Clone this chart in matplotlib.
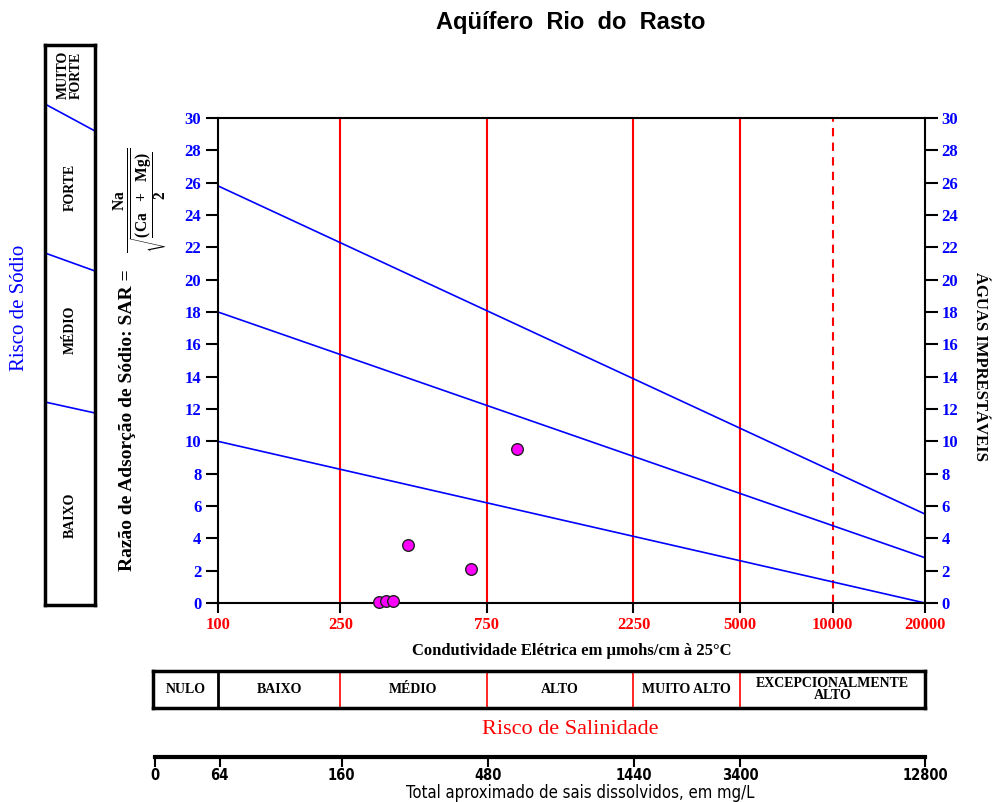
import matplotlib
matplotlib.use("Agg")
import matplotlib.pyplot as plt

# ---------------- data ----------------
ce_values = [333, 353, 370, 415, 665, 942]          # condutividade (µmohs/cm)
sar_values = [0.08, 0.12, 0.12, 3.6, 2.1, 9.5]      # SAR

boundary_ce = [100, 20000]
boundary_upper = [25.8, 5.5]
boundary_middle = [18.0, 2.8]
boundary_lower = [10.0, 0.0]

ce_ticks = [100, 250, 750, 2250, 5000, 10000, 20000]
ce_ticklabels = ["100", "250", "750", "2250", "5000", "10000", "20000"]
red_solid = [250, 750, 2250, 5000]
red_dashed = [10000]

sar_ticks = list(range(0, 31, 2))

sal_edges = [61.5, 100, 250, 750, 2250, 5000, 20000]
sal_labels = ["NULO", "BAIXO", "MÉDIO", "ALTO", "MUITO ALTO", "EXCEPCIONALMENTE\nALTO"]

tds_ce_pos = [61.5, 100, 250, 750, 2250, 5000, 20000]
tds_labels = ["0", "64", "160", "480", "1440", "3400", "12800"]

sodium_labels = ["MUITO\nFORTE", "FORTE", "MÉDIO", "BAIXO"]

# ---------------- style ----------------
plt.rcParams['mathtext.fontset'] = 'custom'
plt.rcParams['mathtext.rm'] = 'Liberation Serif:bold'
plt.rcParams['mathtext.it'] = 'Liberation Serif:bold'
plt.rcParams['mathtext.bf'] = 'Liberation Serif:bold'
SERIF = ['Liberation Serif', 'DejaVu Serif']
SANS = ['Liberation Sans', 'DejaVu Sans']
COND = ['DejaVu Sans']

W, H = 992, 802
fig = plt.figure(figsize=(W / 100, H / 100), dpi=100)

def fx(px):
    return px / W

def fy(py):
    return 1 - py / H

# ---------------- main axes ----------------
ax = fig.add_axes([fx(218), fy(603), fx(925) - fx(218), fy(118) - fy(603)])
ax.set_xscale('log')
ax.set_xlim(100, 20000)
ax.set_ylim(0, 30)

for x in red_solid:
    ax.plot([x, x], [0, 30], color='#ff0000', lw=1.5, zorder=1)
for x in red_dashed:
    ax.plot([x, x], [0, 30], color='#ff0000', lw=1.5, ls=(0, (4, 3)), zorder=1)

for yv in (boundary_upper, boundary_middle, boundary_lower):
    ax.plot(boundary_ce, yv, color='#0000ff', lw=1.2, zorder=2)

ax.scatter(ce_values, sar_values, s=70, c='#ff00ff', edgecolors='#202020',
           linewidths=1.0, zorder=5, clip_on=False)

ax.set_xticks(ce_ticks)
ax.set_xticklabels(ce_ticklabels)
ax.xaxis.set_minor_locator(matplotlib.ticker.NullLocator())
ax.set_yticks(sar_ticks)
ax.tick_params(axis='x', direction='out', length=7, width=1.5, colors='black',
               labelcolor='#ff0000', pad=3)
ax.tick_params(axis='y', direction='out', length=9, width=1.5, colors='black',
               labelcolor='#0000ff', left=True, right=True,
               labelleft=True, labelright=True, pad=3)
for lab in ax.get_xticklabels() + ax.get_yticklabels():
    lab.set_fontfamily(SERIF)
    lab.set_fontweight('bold')
    lab.set_fontsize(12)
for t in ax.yaxis.get_major_ticks():
    t.label2.set_fontfamily(SERIF)
    t.label2.set_fontweight('bold')
    t.label2.set_fontsize(12)
    t.label2.set_color('#0000ff')
for sp in ax.spines.values():
    sp.set_linewidth(1.5)

ax.set_xlabel("Condutividade Elétrica em µmohs/cm à 25°C", fontfamily=SERIF,
              fontweight='bold', fontsize=12, labelpad=7)

# title
fig.text(fx(571), fy(22), "Aqüífero  Rio  do  Rasto", ha='center', va='center',
         fontfamily=SANS, fontweight='bold', fontsize=17)

# right label
fig.text(fx(980), fy(366), "ÁGUAS IMPRESTÁVEIS", rotation=-90, ha='center',
         va='center', fontfamily=SERIF, fontweight='bold', fontsize=12)

# SAR label
fig.text(fx(127), fy(420), "Razão de Adsorção de Sódio: SAR =", rotation=90,
         ha='center', va='center', fontfamily=SERIF, fontweight='bold', fontsize=14)
fig.text(fx(141), fy(200), r"$\frac{Na}{\sqrt{\dfrac{(Ca\ \ +\ \ Mg)}{2}}}$",
         rotation=90, ha='center', va='center', fontsize=16)

# ---------------- sodium risk box ----------------
sx0, sx1, sy0, sy1 = 45, 95, 45, 605
axs = fig.add_axes([fx(sx0), fy(sy1), fx(sx1) - fx(sx0), fy(sy0) - fy(sy1)])
axs.set_xlim(sx0, sx1)
axs.set_ylim(sy1, sy0)
axs.set_xticks([])
axs.set_yticks([])
for sp in axs.spines.values():
    sp.set_linewidth(2.5)
sodium_dividers = [(104, 131), (253, 271), (402, 413)]
for yl, yr in sodium_dividers:
    axs.plot([sx0, sx1], [yl, yr], color='#0000ff', lw=1.2)
sodium_label_y = [75, 187, 330, 515]
for lab, yy in zip(sodium_labels, sodium_label_y):
    axs.text(70, yy, lab, rotation=90, ha='center', va='center',
             fontfamily=SERIF, fontweight='bold', fontsize=10, linespacing=1.0)

fig.text(fx(20), fy(308), "Risco de Sódio", rotation=90, ha='center', va='center',
         fontfamily=SERIF, fontsize=15, color='#0000ff')

# ---------------- salinity box ----------------
axb = fig.add_axes([fx(153), fy(708), fx(925) - fx(153), fy(671) - fy(708)])
axb.set_xscale('log')
axb.set_xlim(sal_edges[0], sal_edges[-1])
axb.set_ylim(0, 1)
axb.set_xticks([])
axb.set_yticks([])
axb.xaxis.set_minor_locator(matplotlib.ticker.NullLocator())
for sp in axb.spines.values():
    sp.set_linewidth(2.5)
for i, e in enumerate(sal_edges[1:-1]):
    axb.axvline(e, color='black' if i == 0 else '#ff0000', lw=2 if i == 0 else 1.2)
for i, lab in enumerate(sal_labels):
    a, b = sal_edges[i], sal_edges[i + 1]
    xc = (a * b) ** 0.5
    axb.text(xc, 0.5, lab, ha='center', va='center', fontfamily=SERIF,
             fontweight='bold', fontsize=10, linespacing=0.9)

fig.text(fx(570), fy(730), "Risco de Salinidade", ha='center', va='center',
         fontfamily=SERIF, fontsize=16, color='#ff0000')

# ---------------- TDS axis ----------------
axt = fig.add_axes([fx(155), fy(757), fx(925) - fx(155), 0.0001])
axt.set_xscale('log')
axt.set_xlim(tds_ce_pos[0], tds_ce_pos[-1])
axt.set_yticks([])
axt.set_xticks(tds_ce_pos)
axt.set_xticklabels(tds_labels)
axt.xaxis.set_minor_locator(matplotlib.ticker.NullLocator())
for name in ('top', 'left', 'right'):
    axt.spines[name].set_visible(False)
axt.spines['bottom'].set_linewidth(3)
axt.tick_params(axis='x', direction='out', length=7, width=1.5, pad=1)
for lab in axt.get_xticklabels():
    lab.set_fontfamily(COND)
    lab.set_fontstretch('condensed')
    lab.set_fontweight('bold')
    lab.set_fontsize(10.5)
axt.patch.set_visible(False)
fig.text(fx(580), fy(793), "Total aproximado de sais dissolvidos, em mg/L",
         ha='center', va='center', fontfamily=COND, fontstretch='condensed',
         fontsize=12)

fig.savefig("out.png", dpi=100)
